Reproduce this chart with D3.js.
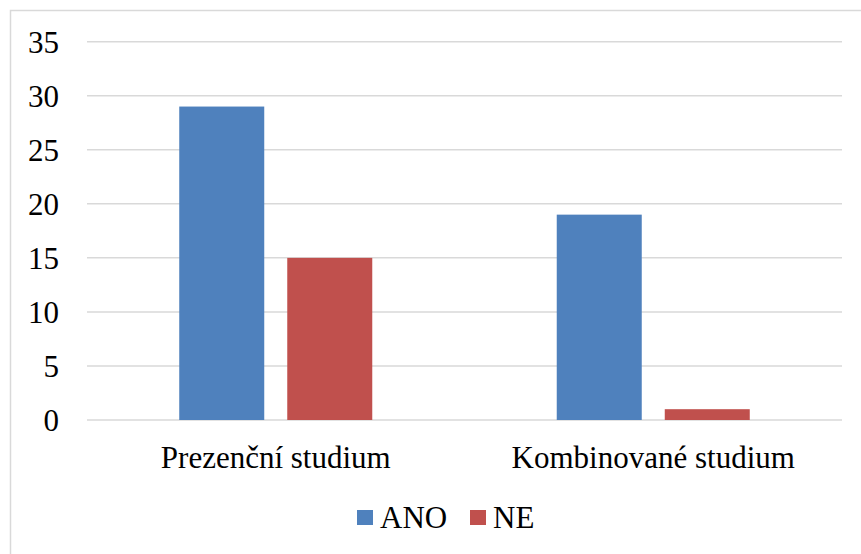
<!DOCTYPE html>
<html>
<head>
<meta charset="utf-8">
<script src="https://cdn.jsdelivr.net/npm/d3@7"></script>
</head>
<body style="margin:0; font-family: 'Times New Roman', 'Liberation Serif', Times, serif;">
<script>
// categories and series
var categories = ['Prezenční studium', 'Kombinované studium'];
var seriesNames = ['ANO', 'NE'];
var anoValues = [29, 19];
var neValues = [15, 1];
var yTicks = [0, 5, 10, 15, 20, 25, 30, 35];

var colors = { ANO: '#4f81bd', NE: '#c0504d' };
var fontFamily = "'Times New Roman', 'Liberation Serif', Times, serif";
var fontSize = 31;

var width = 861, height = 554;
var plot = { left: 87, right: 842, top: 41.7, bottom: 420 };

var svg = d3.select('body').append('svg')
    .attr('width', width)
    .attr('height', height)
    .attr('font-family', fontFamily)
    .style('display', 'block');

// outer chart border
svg.append('rect')
    .attr('x', 10.5).attr('y', 10.5)
    .attr('width', 870).attr('height', 560)
    .attr('fill', 'none')
    .attr('stroke', '#d9d9d9')
    .attr('stroke-width', 1.5);

var y = d3.scaleLinear().domain([0, 35]).range([plot.bottom, plot.top]);

var x0 = d3.scaleBand().domain(categories)
    .range([plot.left, plot.right])
    .paddingInner(0).paddingOuter(0);

// bars take ~193 of 377 px in each band
var x1 = d3.scaleBand().domain(seriesNames)
    .range([0, x0.bandwidth()])
    .paddingInner(0.213)
    .paddingOuter(0.854);

// gridlines
svg.append('g').selectAll('line')
    .data(yTicks)
    .enter().append('line')
    .attr('x1', plot.left).attr('x2', plot.right)
    .attr('y1', function(d) { return y(d); })
    .attr('y2', function(d) { return y(d); })
    .attr('stroke', '#d9d9d9')
    .attr('stroke-width', 1.5);

// y tick labels
svg.append('g').selectAll('text')
    .data(yTicks)
    .enter().append('text')
    .attr('x', 59)
    .attr('y', function(d) { return y(d); })
    .attr('dy', '0.35em')
    .attr('text-anchor', 'end')
    .attr('font-family', fontFamily)
    .attr('font-size', fontSize)
    .text(function(d) { return d; });

var rows = categories.map(function(c, i) {
    return { cat: c, values: [{ key: 'ANO', v: anoValues[i] }, { key: 'NE', v: neValues[i] }] };
});

var groups = svg.append('g').selectAll('g')
    .data(rows)
    .enter().append('g')
    .attr('transform', function(d) { return 'translate(' + x0(d.cat) + ',0)'; });

groups.selectAll('rect')
    .data(function(d) { return d.values; })
    .enter().append('rect')
    .attr('x', function(d) { return x1(d.key); })
    .attr('width', x1.bandwidth())
    .attr('y', function(d) { return y(d.v); })
    .attr('height', function(d) { return y(0) - y(d.v); })
    .attr('fill', function(d) { return colors[d.key]; });

// category labels
svg.append('g').selectAll('text')
    .data(categories)
    .enter().append('text')
    .attr('x', function(d) { return x0(d) + x0.bandwidth() / 2; })
    .attr('y', 468)
    .attr('text-anchor', 'middle')
    .attr('font-family', fontFamily)
    .attr('font-size', fontSize)
    .text(function(d) { return d; });

// legend
var legendItems = [{ key: 'ANO', x: 357 }, { key: 'NE', x: 470 }];
var legend = svg.append('g').selectAll('g')
    .data(legendItems)
    .enter().append('g')
    .attr('transform', function(d) { return 'translate(' + d.x + ',510)'; });

legend.append('rect')
    .attr('width', 16).attr('height', 15)
    .attr('fill', function(d) { return colors[d.key]; });

legend.append('text')
    .attr('x', 23)
    .attr('y', 18)
    .attr('font-family', fontFamily)
    .attr('font-size', fontSize)
    .text(function(d) { return d.key; });
</script>
</body>
</html>
